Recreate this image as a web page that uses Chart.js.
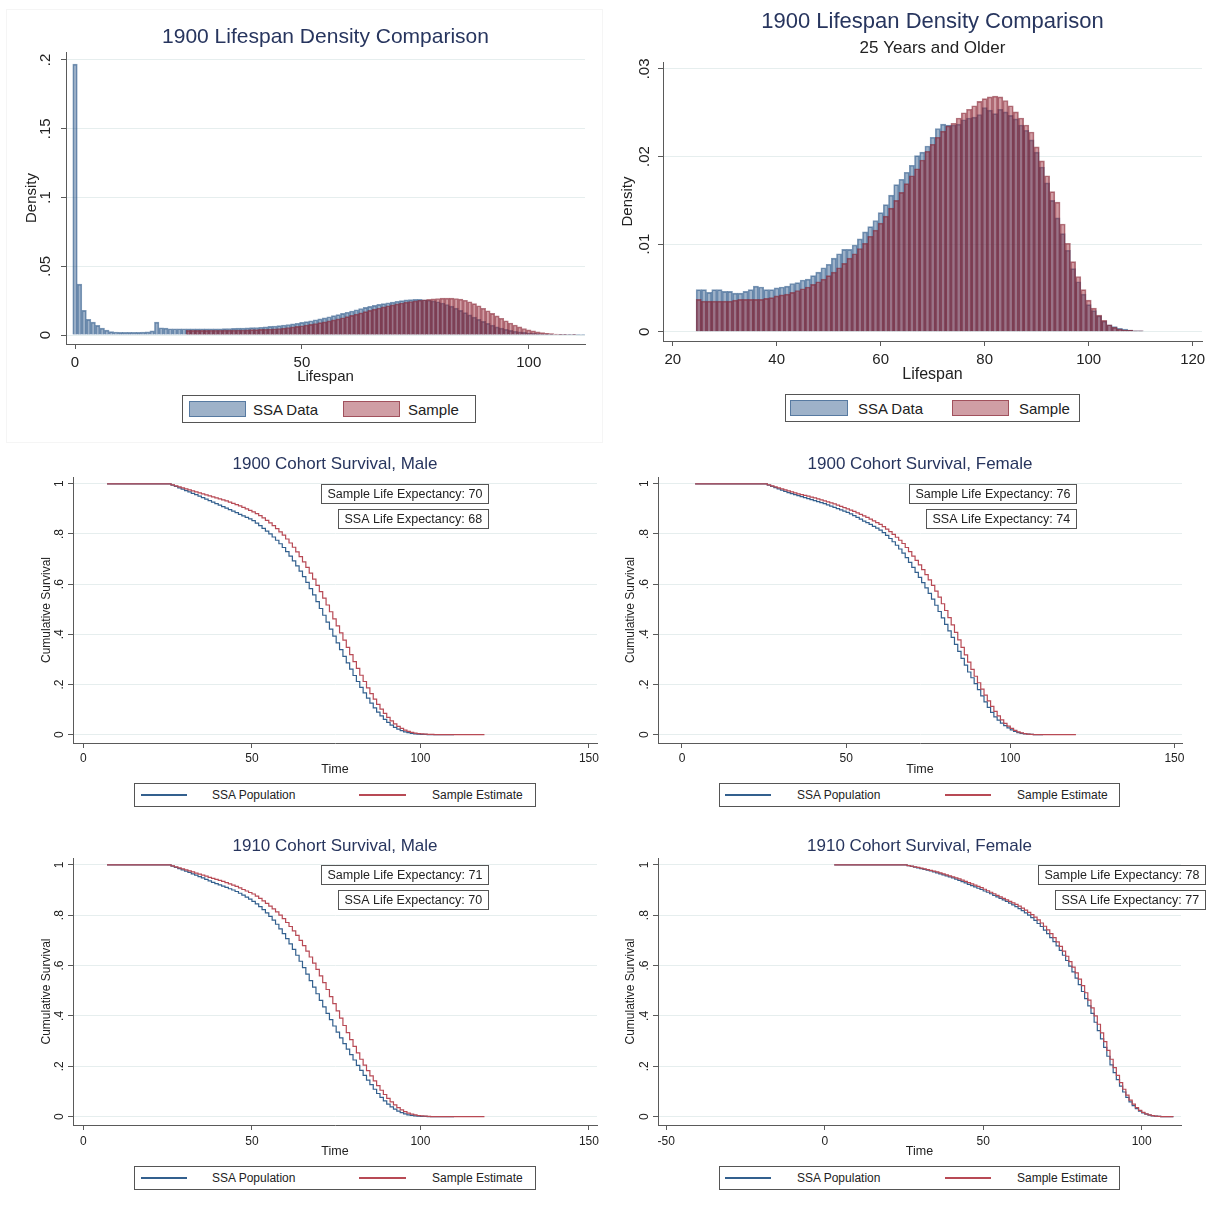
<!DOCTYPE html>
<html lang="en">
<head>
<meta charset="utf-8">
<title>Lifespan density and cohort survival</title>
<script src="https://cdn.jsdelivr.net/npm/chart.js@4.4.1/dist/chart.umd.min.js"></script>
<style>
  body { margin: 0; background: #fff; }
  #pagina { position: relative; width: 1225px; height: 1217px; overflow: hidden;
            font-family: "Liberation Sans", Arial, sans-serif; color: #222; }
  #pagina canvas { position: absolute; }
  .cornice { position: absolute; border: 1px solid #f5f5f5; }
  .legenda { position: absolute; box-sizing: border-box; border: 1px solid #555; background: #fff; }
  .legenda span { position: absolute; }
  .legenda .testo { top: 50%; transform: translateY(-50%); white-space: nowrap; line-height: 1; }
  .area { top: 5px; height: 16px; box-sizing: border-box; }
  .area.ssa { background: rgba(40,85,135,0.45); border: 1px solid rgba(40,85,135,0.6); }
  .area.camp { background: rgba(150,40,55,0.45); border: 1px solid rgba(130,30,45,0.6); }
  .linea { top: 50%; height: 2px; margin-top: -1px; }
  .linea.ssa { background: #33608e; }
  .linea.camp { background: #b84a55; }
</style>
</head>
<body>
<div id="pagina">
  <div class="cornice" style="left:6px;top:9px;width:595px;height:432px"></div>

  <canvas id="densTutti" width="605" height="380" style="left:0;top:10px"></canvas>
  <canvas id="dens25" width="620" height="390" style="left:605px;top:0"></canvas>
  <canvas id="survM1900" width="612" height="335" style="left:0;top:445px"></canvas>
  <canvas id="survF1900" width="613" height="335" style="left:612px;top:445px"></canvas>
  <canvas id="survM1910" width="612" height="335" style="left:0;top:827px"></canvas>
  <canvas id="survF1910" width="613" height="335" style="left:612px;top:827px"></canvas>

  <!-- legende in stile Stata, sotto ogni grafico -->
  <div class="legenda" style="left:182px;top:395px;width:294px;height:28px;font-size:15px">
    <span class="area ssa" style="left:6px;width:57px"></span>
    <span class="testo" style="left:70px">SSA Data</span>
    <span class="area camp" style="left:160px;width:57px"></span>
    <span class="testo" style="left:225px">Sample</span>
  </div>
  <div class="legenda" style="left:785px;top:394px;width:295px;height:28px;font-size:15px">
    <span class="area ssa" style="left:4px;width:58px"></span>
    <span class="testo" style="left:72px">SSA Data</span>
    <span class="area camp" style="left:166px;width:57px"></span>
    <span class="testo" style="left:233px">Sample</span>
  </div>
  <div class="legenda" style="left:134px;top:783px;width:402px;height:24px;font-size:12px">
    <span class="linea ssa" style="left:6px;width:46px"></span>
    <span class="testo" style="left:77px">SSA Population</span>
    <span class="linea camp" style="left:224px;width:47px"></span>
    <span class="testo" style="left:297px">Sample Estimate</span>
  </div>
  <div class="legenda" style="left:719px;top:783px;width:401px;height:24px;font-size:12px">
    <span class="linea ssa" style="left:5px;width:46px"></span>
    <span class="testo" style="left:77px">SSA Population</span>
    <span class="linea camp" style="left:225px;width:46px"></span>
    <span class="testo" style="left:297px">Sample Estimate</span>
  </div>
  <div class="legenda" style="left:134px;top:1166px;width:402px;height:24px;font-size:12px">
    <span class="linea ssa" style="left:6px;width:46px"></span>
    <span class="testo" style="left:77px">SSA Population</span>
    <span class="linea camp" style="left:224px;width:47px"></span>
    <span class="testo" style="left:297px">Sample Estimate</span>
  </div>
  <div class="legenda" style="left:719px;top:1166px;width:401px;height:24px;font-size:12px">
    <span class="linea ssa" style="left:5px;width:46px"></span>
    <span class="testo" style="left:77px">SSA Population</span>
    <span class="linea camp" style="left:225px;width:46px"></span>
    <span class="testo" style="left:297px">Sample Estimate</span>
  </div>
</div>

<script>
Chart.defaults.font.family = '"Liberation Sans", Arial, sans-serif';
Chart.defaults.color = '#222';

const COLORE_ASSE = '#5a5a5a';
const COLORE_GRIGLIA = '#e6eeee';
const COLORE_TITOLO = '#27355e';

// ---- istogrammi di densita' (classi di un anno) ----
const etaDens = [0,1,2,3,4,5,6,7,8,9,10,11,12,13,14,15,16,17,18,19,20,21,22,23,24,25,26,27,28,29,
  30,31,32,33,34,35,36,37,38,39,40,41,42,43,44,45,46,47,48,49,50,51,52,53,54,55,56,57,58,59,
  60,61,62,63,64,65,66,67,68,69,70,71,72,73,74,75,76,77,78,79,80,81,82,83,84,85,86,87,88,89,
  90,91,92,93,94,95,96,97,98,99,100,101,102,103,104,105,106,107,108,109,110,111,112];

const densSsaTutti = [
  0.197, 0.037, 0.018, 0.0114, 0.0094, 0.007, 0.005, 0.0036, 0.0025, 0.0022,
  0.002, 0.0019, 0.0019, 0.0019, 0.002, 0.0021, 0.0023, 0.003, 0.0094, 0.0053,
  0.005, 0.0046, 0.0046, 0.0046, 0.0046, 0.0046, 0.0046, 0.0045, 0.0046, 0.0046,
  0.0046, 0.0046, 0.0046, 0.0047, 0.0048, 0.0049, 0.005, 0.0051, 0.0052, 0.0054,
  0.0055, 0.0057, 0.006, 0.0063, 0.0066, 0.0069, 0.0073, 0.0077, 0.0081, 0.0086,
  0.0092, 0.0098, 0.0104, 0.0111, 0.0118, 0.0125, 0.0133, 0.0141, 0.0149, 0.0158,
  0.0166, 0.0175, 0.0184, 0.0193, 0.0201, 0.0209, 0.0216, 0.0223, 0.0229, 0.0235,
  0.024, 0.0246, 0.025, 0.0256, 0.0258, 0.026, 0.0259, 0.0257, 0.0253, 0.0248,
  0.0242, 0.0233, 0.0222, 0.021, 0.0196, 0.018, 0.0163, 0.0147, 0.013, 0.0114,
  0.0099, 0.0085, 0.0072, 0.006, 0.005, 0.0041, 0.0034, 0.0028, 0.0023, 0.0019,
  0.0015, 0.0012, 0.001, 0.0008, 0.0006, 0.0005, 0.0004, 0.0003, 0.0003, 0.0002,
  0.0002, 0.0001, 0.0001];

// eta' dai 25 anni in su: campione, SSA 25+ e curve di sopravvivenza
const eta25 = [25,26,27,28,29,30,31,32,33,34,35,36,37,38,39,40,41,42,43,44,45,46,47,48,49,
  50,51,52,53,54,55,56,57,58,59,60,61,62,63,64,65,66,67,68,69,70,71,72,73,74,
  75,76,77,78,79,80,81,82,83,84,85,86,87,88,89,90,91,92,93,94,95,96,97,98,99,
  100,101,102,103,104,105,106,107,108,109,110];

const densCampioneTutti = [
  0.0034, 0.0034, 0.0034, 0.0034, 0.0034, 0.0035, 0.0035, 0.0035, 0.0036, 0.0036,
  0.0036, 0.0037, 0.0037, 0.0038, 0.0039, 0.004, 0.0041, 0.0042, 0.0044, 0.0046,
  0.0048, 0.0051, 0.0055, 0.0059, 0.0063, 0.0068, 0.0073, 0.0078, 0.0084, 0.009,
  0.0096, 0.0103, 0.011, 0.0118, 0.0126, 0.0134, 0.0143, 0.0152, 0.0161, 0.017,
  0.0179, 0.0188, 0.0197, 0.0205, 0.0213, 0.022, 0.0227, 0.0233, 0.0239, 0.0244,
  0.0249, 0.0253, 0.0257, 0.026, 0.0263, 0.0266, 0.0268, 0.0269, 0.0268, 0.0266,
  0.0261, 0.0253, 0.0242, 0.0229, 0.0213, 0.0195, 0.0177, 0.0158, 0.014, 0.0122,
  0.0104, 0.0088, 0.0073, 0.006, 0.0048, 0.0038, 0.003, 0.0023, 0.0018, 0.0013,
  0.001, 0.0008, 0.0006, 0.0005, 0.0004, 0.0003];

const densSsa25 = [
  0.0048, 0.0048, 0.0045, 0.0048, 0.0048, 0.0046, 0.0046, 0.0044, 0.0044, 0.0046,
  0.0048, 0.0052, 0.0051, 0.0048, 0.0048, 0.005, 0.0051, 0.0052, 0.0055, 0.0056,
  0.0059, 0.006, 0.0064, 0.0068, 0.0073, 0.0077, 0.0084, 0.0089, 0.0094, 0.0094,
  0.0099, 0.0106, 0.0114, 0.012, 0.0127, 0.0136, 0.0145, 0.0156, 0.0168, 0.0174,
  0.0182, 0.019, 0.0201, 0.0205, 0.0212, 0.0222, 0.0232, 0.0237, 0.0236, 0.0236,
  0.0237, 0.0242, 0.0244, 0.0245, 0.0248, 0.0256, 0.0253, 0.0249, 0.0254, 0.0251,
  0.0247, 0.0243, 0.0236, 0.023, 0.0219, 0.0205, 0.0188, 0.017, 0.015, 0.013,
  0.0112, 0.0093, 0.0072, 0.0057, 0.0043, 0.0031, 0.0024, 0.0018, 0.0012, 0.0008,
  0.0006, 0.0004, 0.0003, 0.0002, 0.0001, 0.0001];

const densCampione25 = [
  0.0037, 0.0035, 0.0035, 0.0035, 0.0035, 0.0035, 0.0035, 0.0036, 0.0037, 0.0037,
  0.0037, 0.0037, 0.0037, 0.0038, 0.0039, 0.0041, 0.0042, 0.0043, 0.0045, 0.0047,
  0.0049, 0.0051, 0.0054, 0.0057, 0.006, 0.0064, 0.0068, 0.0073, 0.0078, 0.0084,
  0.0089, 0.0095, 0.0101, 0.0109, 0.0116, 0.0124, 0.0132, 0.0141, 0.015, 0.0159,
  0.0169, 0.0178, 0.0186, 0.0196, 0.0206, 0.0214, 0.0222, 0.0229, 0.0235, 0.0238,
  0.0244, 0.025, 0.0254, 0.0258, 0.0263, 0.0266, 0.0268, 0.0269, 0.0268, 0.0264,
  0.0258, 0.0251, 0.0244, 0.0236, 0.0228, 0.0211, 0.0195, 0.0178, 0.016, 0.0148,
  0.0123, 0.0101, 0.008, 0.0063, 0.0048, 0.0036, 0.0027, 0.0019, 0.0013, 0.0008,
  0.0005, 0.0003, 0.0002, 0.0002, 0.0001, 0.0001];

const tickDensTutti = [0, 0.05, 0.1, 0.15, 0.2];
const etichDensTutti = ['0', '.05', '.1', '.15', '.2'];
const tickDens25 = [0, 0.01, 0.02, 0.03];
const etichDens25 = ['0', '.01', '.02', '.03'];
const tickEtaTutti = [0, 50, 100];
const tickEta25 = [20, 40, 60, 80, 100, 120];

// ---- curve di sopravvivenza (valori a ogni eta' di eta25) ----
const survM1900Ssa = [
  1, 0.995, 0.99, 0.984, 0.979, 0.973, 0.968, 0.962, 0.957, 0.951,
  0.945, 0.939, 0.933, 0.927, 0.921, 0.915, 0.909, 0.903, 0.897, 0.891,
  0.885, 0.878, 0.872, 0.866, 0.86, 0.853, 0.843, 0.833, 0.822, 0.811,
  0.8, 0.788, 0.775, 0.761, 0.746, 0.73, 0.712, 0.693, 0.673, 0.652,
  0.63, 0.607, 0.582, 0.557, 0.53, 0.503, 0.476, 0.449, 0.421, 0.393,
  0.366, 0.339, 0.312, 0.286, 0.261, 0.236, 0.212, 0.189, 0.167, 0.146,
  0.126, 0.107, 0.09, 0.075, 0.061, 0.049, 0.038, 0.029, 0.022, 0.016,
  0.011, 0.008, 0.005, 0.003, 0.002, 0.001, 0.001, 0, 0, 0,
  0, 0, 0, 0, 0, 0];
const survM1900Campione = [
  1, 0.996, 0.992, 0.988, 0.984, 0.98, 0.976, 0.972, 0.968, 0.964,
  0.96, 0.956, 0.952, 0.948, 0.944, 0.94, 0.936, 0.932, 0.927, 0.922,
  0.917, 0.912, 0.906, 0.9, 0.894, 0.888, 0.881, 0.873, 0.864, 0.854,
  0.844, 0.833, 0.821, 0.808, 0.795, 0.78, 0.764, 0.747, 0.729, 0.71,
  0.689, 0.667, 0.644, 0.62, 0.595, 0.57, 0.544, 0.517, 0.49, 0.462,
  0.434, 0.406, 0.377, 0.348, 0.319, 0.291, 0.264, 0.237, 0.212, 0.187,
  0.164, 0.142, 0.121, 0.102, 0.085, 0.069, 0.055, 0.043, 0.033, 0.025,
  0.018, 0.013, 0.009, 0.006, 0.004, 0.003, 0.002, 0.001, 0.001, 0,
  0, 0, 0, 0, 0, 0];

const survF1900Ssa = [
  1, 0.995, 0.99, 0.985, 0.98, 0.975, 0.97, 0.965, 0.961, 0.957,
  0.953, 0.949, 0.945, 0.941, 0.937, 0.933, 0.929, 0.925, 0.921, 0.916,
  0.911, 0.906, 0.901, 0.896, 0.891, 0.886, 0.88, 0.873, 0.866, 0.859,
  0.851, 0.845, 0.838, 0.83, 0.823, 0.815, 0.805, 0.794, 0.782, 0.769,
  0.755, 0.74, 0.724, 0.706, 0.687, 0.667, 0.647, 0.627, 0.606, 0.585,
  0.563, 0.54, 0.516, 0.491, 0.466, 0.44, 0.414, 0.388, 0.36, 0.332,
  0.304, 0.277, 0.25, 0.227, 0.204, 0.18, 0.155, 0.131, 0.109, 0.089,
  0.071, 0.058, 0.046, 0.036, 0.027, 0.019, 0.013, 0.008, 0.005, 0.003,
  0.002, 0.001, 0, 0, 0, 0];
const survF1900Campione = [
  1, 0.996, 0.992, 0.988, 0.984, 0.98, 0.976, 0.972, 0.968, 0.964,
  0.96, 0.957, 0.954, 0.951, 0.947, 0.944, 0.94, 0.936, 0.932, 0.928,
  0.924, 0.92, 0.915, 0.91, 0.905, 0.9, 0.895, 0.89, 0.884, 0.878,
  0.872, 0.866, 0.859, 0.852, 0.845, 0.838, 0.829, 0.819, 0.809, 0.798,
  0.787, 0.775, 0.762, 0.746, 0.73, 0.712, 0.695, 0.677, 0.658, 0.638,
  0.617, 0.595, 0.572, 0.548, 0.522, 0.495, 0.467, 0.438, 0.408, 0.378,
  0.348, 0.318, 0.289, 0.26, 0.233, 0.207, 0.182, 0.158, 0.135, 0.113,
  0.093, 0.075, 0.059, 0.045, 0.034, 0.025, 0.017, 0.011, 0.007, 0.004,
  0.002, 0.001, 0, 0, 0, 0];

const survM1910Ssa = [
  1, 0.995, 0.99, 0.985, 0.98, 0.975, 0.97, 0.964, 0.959, 0.953,
  0.948, 0.942, 0.936, 0.93, 0.925, 0.92, 0.915, 0.91, 0.905, 0.9,
  0.894, 0.887, 0.88, 0.872, 0.864, 0.855, 0.845, 0.834, 0.822, 0.809,
  0.795, 0.78, 0.764, 0.746, 0.727, 0.707, 0.686, 0.664, 0.641, 0.617,
  0.592, 0.566, 0.54, 0.514, 0.488, 0.462, 0.436, 0.41, 0.385, 0.36,
  0.336, 0.313, 0.29, 0.268, 0.246, 0.225, 0.204, 0.184, 0.164, 0.145,
  0.127, 0.109, 0.092, 0.077, 0.063, 0.05, 0.039, 0.03, 0.022, 0.016,
  0.011, 0.007, 0.005, 0.003, 0.002, 0.001, 0.001, 0, 0, 0,
  0, 0, 0, 0, 0, 0];
const survM1910Campione = [
  1, 0.996, 0.992, 0.988, 0.984, 0.98, 0.976, 0.972, 0.967, 0.963,
  0.959, 0.955, 0.95, 0.946, 0.942, 0.938, 0.934, 0.929, 0.924, 0.919,
  0.914, 0.908, 0.902, 0.896, 0.89, 0.884, 0.876, 0.867, 0.857, 0.847,
  0.836, 0.825, 0.813, 0.8, 0.786, 0.771, 0.755, 0.738, 0.72, 0.7,
  0.679, 0.657, 0.634, 0.61, 0.585, 0.559, 0.532, 0.505, 0.477, 0.449,
  0.42, 0.391, 0.362, 0.334, 0.306, 0.279, 0.253, 0.228, 0.205, 0.183,
  0.162, 0.142, 0.123, 0.105, 0.088, 0.073, 0.059, 0.047, 0.036, 0.027,
  0.02, 0.014, 0.01, 0.007, 0.004, 0.003, 0.002, 0.001, 0, 0,
  0, 0, 0, 0, 0, 0];

const survF1910Ssa = [
  1, 0.997, 0.994, 0.991, 0.988, 0.985, 0.982, 0.979, 0.976, 0.972,
  0.968, 0.964, 0.96, 0.956, 0.952, 0.948, 0.943, 0.938, 0.933, 0.928,
  0.922, 0.917, 0.912, 0.907, 0.902, 0.896, 0.891, 0.885, 0.879, 0.873,
  0.867, 0.861, 0.855, 0.848, 0.841, 0.834, 0.826, 0.818, 0.809, 0.8,
  0.79, 0.779, 0.767, 0.755, 0.741, 0.727, 0.711, 0.695, 0.678, 0.66,
  0.641, 0.62, 0.598, 0.575, 0.55, 0.524, 0.497, 0.469, 0.44, 0.41,
  0.375, 0.342, 0.309, 0.275, 0.24, 0.206, 0.175, 0.147, 0.121, 0.098,
  0.077, 0.059, 0.044, 0.032, 0.022, 0.015, 0.01, 0.006, 0.003, 0.002,
  0.001, 0, 0, 0, 0, 0];
const survF1910Campione = [
  1, 0.997, 0.995, 0.992, 0.99, 0.987, 0.984, 0.981, 0.978, 0.975,
  0.972, 0.968, 0.964, 0.96, 0.956, 0.952, 0.948, 0.944, 0.939, 0.934,
  0.929, 0.924, 0.919, 0.914, 0.909, 0.903, 0.897, 0.891, 0.885, 0.879,
  0.873, 0.867, 0.861, 0.855, 0.849, 0.843, 0.836, 0.828, 0.82, 0.811,
  0.802, 0.792, 0.781, 0.769, 0.756, 0.742, 0.727, 0.711, 0.694, 0.676,
  0.657, 0.637, 0.616, 0.594, 0.571, 0.546, 0.52, 0.492, 0.463, 0.432,
  0.4, 0.367, 0.333, 0.298, 0.263, 0.228, 0.195, 0.164, 0.135, 0.109,
  0.086, 0.066, 0.05, 0.036, 0.025, 0.017, 0.011, 0.007, 0.004, 0.002,
  0.001, 0.0005, 0, 0, 0, 0];

// primo tempo osservato (sopravvivenza = 1) e ultimo tempo della stima campionaria
const inizioM1900 = 7, fineM1900 = 119;
const inizioF1900 = 4, fineF1900 = 120;
const inizioM1910 = 7, fineM1910 = 119;
const inizioF1910 = 3, fineF1910 = 110;

const tickSurv = [0, 0.2, 0.4, 0.6, 0.8, 1];
const etichSurv = ['0', '.2', '.4', '.6', '.8', '1'];
const tickTempo = [0, 50, 100, 150];
const tickTempoF1910 = [-50, 0, 50, 100];

const noteM1900 = ['Sample Life Expectancy: 70', 'SSA Life Expectancy: 68'];
const noteF1900 = ['Sample Life Expectancy: 76', 'SSA Life Expectancy: 74'];
const noteM1910 = ['Sample Life Expectancy: 71', 'SSA Life Expectancy: 70'];
const noteF1910 = ['Sample Life Expectancy: 78', 'SSA Life Expectancy: 77'];
const xNote = 120;          // bordo destro dei riquadri, in anni
const yNote = [1, 0.9];     // bordo superiore dei riquadri

function punti(eta, valori) {
    return eta.map((e, i) => ({ x: e, y: valori[i] }));
}

// assi in stile Stata: etichette y ruotate, griglia orizzontale chiara
function costruisciAssi(cfg) {
    return {
        x: {
            type: 'linear', min: cfg.xMin, max: cfg.xMax, offset: false,
            afterBuildTicks: s => { s.ticks = cfg.xTick.map(v => ({ value: v })); },
            afterFit: s => { s.height = cfg.altezzaX; },
            ticks: { autoSkip: false, maxRotation: 0, padding: cfg.padTickX, color: '#222',
                     font: { size: cfg.fontTick }, callback: v => String(v) },
            grid: { display: true, drawOnChartArea: false, offset: false,
                    tickColor: COLORE_ASSE, tickLength: 5, tickWidth: 1 },
            border: { display: true, color: COLORE_ASSE, width: 1 },
            title: { display: true, text: cfg.titoloX, color: '#222', font: { size: cfg.fontTitoloX },
                     padding: { top: 0, bottom: cfg.padTitoloX } }
        },
        y: {
            type: 'linear', min: cfg.yMin, max: cfg.yMax,
            afterBuildTicks: s => { s.ticks = cfg.yTick.map(v => ({ value: v })); },
            afterFit: s => { s.width = cfg.larghezzaY; },
            ticks: { autoSkip: false, minRotation: 90, maxRotation: 90, crossAlign: 'center',
                     padding: cfg.padTickY, color: '#222', font: { size: cfg.fontTick },
                     callback: (v, i) => cfg.yEtichette[i] },
            grid: { color: COLORE_GRIGLIA, lineWidth: 1, tickColor: COLORE_ASSE, tickLength: 5 },
            border: { display: true, color: COLORE_ASSE, width: 1 },
            title: { display: true, text: cfg.titoloY, color: '#222', font: { size: cfg.fontTitoloY },
                     padding: { top: cfg.padTitoloY, bottom: 0 } }
        }
    };
}

function graficoDensita(idCanvas, cfg) {
    const plugins = {
        legend: { display: false },
        tooltip: { enabled: false },
        title: { display: true, text: cfg.titolo, fullSize: false, color: COLORE_TITOLO,
                 font: { size: cfg.fontTitolo, weight: 'normal' }, padding: cfg.padTitolo }
    };
    if (cfg.sottotitolo) {
        plugins.subtitle = { display: true, text: cfg.sottotitolo, fullSize: false, color: '#222',
                             font: { size: 17, weight: 'normal' }, padding: cfg.padSottotitolo };
    }
    new Chart(document.getElementById(idCanvas), {
        type: 'bar',
        data: {
            datasets: [
                {
                    label: 'SSA Data', data: punti(cfg.etaSsa, cfg.ssa),
                    backgroundColor: 'rgba(40,85,135,0.45)', borderColor: 'rgba(40,85,135,0.6)',
                    borderWidth: 1, grouped: false, barPercentage: 1, categoryPercentage: 1, order: 1
                },
                {
                    label: 'Sample', data: punti(eta25, cfg.campione),
                    backgroundColor: 'rgba(150,40,55,0.45)', borderColor: 'rgba(130,30,45,0.6)',
                    borderWidth: 1, grouped: false, barPercentage: 1, categoryPercentage: 1, order: 0
                }
            ]
        },
        options: {
            responsive: false, animation: false,
            layout: { padding: cfg.padding },
            plugins: plugins,
            scales: costruisciAssi(cfg)
        }
    });
}

// riquadri con la speranza di vita, ancorati in coordinate dei dati
function pluginRiquadri(testi) {
    return {
        id: 'riquadriSperanza',
        afterDraw: (chart) => {
            const ctx = chart.ctx;
            const xs = chart.scales.x, ys = chart.scales.y;
            ctx.save();
            ctx.font = '12.5px "Liberation Sans", Arial, sans-serif';
            ctx.textBaseline = 'middle';
            testi.forEach((testo, i) => {
                const destra = Math.round(xs.getPixelForValue(xNote));
                const alto = Math.round(ys.getPixelForValue(yNote[i]));
                const w = Math.round(ctx.measureText(testo).width + 12);
                const h = 19;
                ctx.fillStyle = '#fff';
                ctx.fillRect(destra - w, alto, w, h);
                ctx.strokeStyle = '#555';
                ctx.lineWidth = 1;
                ctx.strokeRect(destra - w + 0.5, alto + 0.5, w, h);
                ctx.fillStyle = '#222';
                ctx.fillText(testo, destra - w + 6.5, alto + h / 2 + 1);
            });
            ctx.restore();
        }
    };
}

function graficoSopravvivenza(idCanvas, cfg) {
    const datiSsa = [{ x: cfg.inizio, y: 1 }].concat(punti(eta25, cfg.ssa));
    const datiCampione = [{ x: cfg.inizio, y: 1 }].concat(punti(eta25, cfg.campione));
    if (cfg.fine > eta25[eta25.length - 1]) datiCampione.push({ x: cfg.fine, y: 0 });

    new Chart(document.getElementById(idCanvas), {
        type: 'line',
        data: {
            datasets: [
                { label: 'SSA Population', data: datiSsa, borderColor: '#33608e', borderWidth: 1.2,
                  stepped: true, pointRadius: 0, fill: false, order: 1 },
                { label: 'Sample Estimate', data: datiCampione, borderColor: '#b84a55', borderWidth: 1.2,
                  stepped: true, pointRadius: 0, fill: false, order: 0 }
            ]
        },
        options: {
            responsive: false, animation: false,
            layout: { padding: cfg.padding },
            plugins: {
                legend: { display: false },
                tooltip: { enabled: false },
                title: { display: true, text: cfg.titolo, fullSize: false, color: COLORE_TITOLO,
                         font: { size: 17, weight: 'normal' }, padding: cfg.padTitolo }
            },
            scales: costruisciAssi(cfg)
        },
        plugins: [pluginRiquadri(cfg.note)]
    });
}

graficoDensita('densTutti', {
    titolo: '1900 Lifespan Density Comparison', fontTitolo: 21, padTitolo: { top: 15, bottom: 1.8 },
    etaSsa: etaDens, ssa: densSsaTutti, campione: densCampioneTutti,
    xMin: -1.99, xMax: 112.4, xTick: tickEtaTutti,
    yMin: -0.0065, yMax: 0.2058, yTick: tickDensTutti, yEtichette: etichDensTutti,
    altezzaX: 46, larghezzaY: 66, padTickX: 5, padTickY: 5, fontTick: 15,
    titoloX: 'Lifespan', fontTitoloX: 15, padTitoloX: 4,
    titoloY: 'Density', fontTitoloY: 15, padTitoloY: 22.7,
    padding: { left: 0, right: 20, top: 0, bottom: 0 }
});

graficoDensita('dens25', {
    titolo: '1900 Lifespan Density Comparison', fontTitolo: 22, padTitolo: { top: 8.8, bottom: 0 },
    sottotitolo: '25 Years and Older', padSottotitolo: { top: 2.6, bottom: 3.8 },
    etaSsa: eta25, ssa: densSsa25, campione: densCampione25,
    xMin: 18.13, xMax: 121.8, xTick: tickEta25,
    yMin: -0.00106, yMax: 0.03079, yTick: tickDens25, yEtichette: etichDens25,
    altezzaX: 49, larghezzaY: 58, padTickX: 5, padTickY: 3, fontTick: 15,
    titoloX: 'Lifespan', fontTitoloX: 16, padTitoloX: 5.4,
    titoloY: 'Density', fontTitoloY: 15, padTitoloY: 14,
    padding: { left: 0, right: 23, top: 0, bottom: 0 }
});

const baseSurv = {
    yMin: -0.033, yMax: 1.027, yTick: tickSurv, yEtichette: etichSurv,
    altezzaX: 37, padTickY: 3, fontTick: 12,
    titoloX: 'Time', fontTitoloX: 12.5, padTitoloX: 2.5,
    titoloY: 'Cumulative Survival', fontTitoloY: 12
};

graficoSopravvivenza('survM1900', Object.assign({}, baseSurv, {
    titolo: '1900 Cohort Survival, Male', padTitolo: { top: 8.8, bottom: 2.8 },
    ssa: survM1900Ssa, campione: survM1900Campione, inizio: inizioM1900, fine: fineM1900,
    note: noteM1900, xMin: -3.1, xMax: 152.4, xTick: tickTempo,
    larghezzaY: 73, padTickX: 3, padTitoloY: 39.5,
    padding: { left: 0, right: 15, top: 0, bottom: 0 }
}));

graficoSopravvivenza('survF1900', Object.assign({}, baseSurv, {
    titolo: '1900 Cohort Survival, Female', padTitolo: { top: 8.8, bottom: 2.8 },
    ssa: survF1900Ssa, campione: survF1900Campione, inizio: inizioF1900, fine: fineF1900,
    note: noteF1900, xMin: -7.3, xMax: 152.3, xTick: tickTempo,
    larghezzaY: 46, padTickX: 3, padTitoloY: 11.8,
    padding: { left: 0, right: 43, top: 0, bottom: 0 }
}));

graficoSopravvivenza('survM1910', Object.assign({}, baseSurv, {
    titolo: '1910 Cohort Survival, Male', padTitolo: { top: 8.8, bottom: 1.8 },
    ssa: survM1910Ssa, campione: survM1910Campione, inizio: inizioM1910, fine: fineM1910,
    note: noteM1910, xMin: -3.1, xMax: 152.4, xTick: tickTempo,
    larghezzaY: 73, padTickX: 4, padTitoloY: 39.5,
    padding: { left: 0, right: 15, top: 0, bottom: 0 }
}));

graficoSopravvivenza('survF1910', Object.assign({}, baseSurv, {
    titolo: '1910 Cohort Survival, Female', padTitolo: { top: 8.8, bottom: 1.8 },
    ssa: survF1910Ssa, campione: survF1910Campione, inizio: inizioF1910, fine: fineF1910,
    note: noteF1910, xMin: -52.6, xMax: 112.4, xTick: tickTempoF1910,
    larghezzaY: 46, padTickX: 4, padTitoloY: 11.8,
    padding: { left: 0, right: 44, top: 0, bottom: 0 }
}));
</script>
</body>
</html>
